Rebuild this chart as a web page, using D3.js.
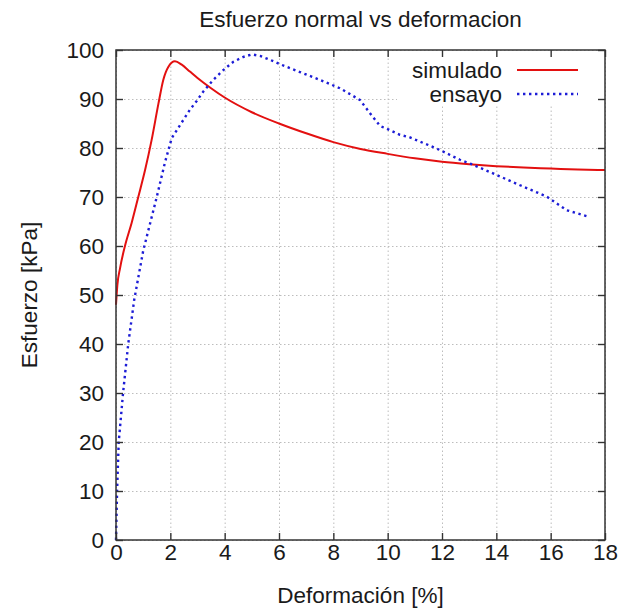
<!DOCTYPE html>
<html>
<head>
<meta charset="utf-8">
<script src="https://cdn.jsdelivr.net/npm/d3@7"></script>
<style>
  html, body { margin: 0; padding: 0; background: #fff; }
  svg { display: block; font-family: "Liberation Sans", Arial, Helvetica, sans-serif; }
</style>
</head>
<body>
<svg id="chart" width="622" height="610"></svg>
<script>
// Curva simulada
const simX = [0, 0.05, 0.15, 0.33, 0.58, 0.82, 1.07, 1.31, 1.56, 1.74, 1.93, 2.17, 2.42, 2.72, 3.0, 3.5, 4.0, 5.0, 6.0, 7.0, 8.0, 9.0, 10.0, 11.0, 12.0, 13.0, 14.0, 15.0, 16.0, 17.0, 18.0];
const simY = [48, 52, 55.5, 60, 64.8, 70, 75.5, 81.6, 89, 93.9, 96.6, 97.7, 97.0, 95.6, 94.3, 92.2, 90.3, 87.3, 85, 83, 81.2, 79.8, 78.8, 77.9, 77.2, 76.7, 76.3, 76.0, 75.8, 75.6, 75.5];

// Ensayo de laboratorio
const ensX = [0, 0.02, 0.04, 0.1, 0.26, 0.45, 0.67, 1.0, 1.25, 1.5, 1.8, 2.05, 2.36, 2.72, 2.97, 3.21, 3.58, 3.95, 4.32, 4.69, 5.0, 5.3, 5.67, 6.04, 6.4, 6.77, 7.51, 8.24, 8.98, 9.35, 9.72, 10.02, 10.45, 10.8, 11.19, 11.5, 11.92, 12.66, 13.09, 14.01, 14.87, 15.85, 16.59, 17.38];
const ensY = [0, 5, 10, 20, 30, 40, 49, 59, 64.5, 70, 77, 82, 84.7, 87.8, 89.6, 91.5, 93.9, 95.9, 97.6, 98.6, 99.1, 98.8, 98.0, 97.1, 96.3, 95.5, 93.9, 92.2, 89.8, 87.1, 84.5, 83.8, 82.7, 82.2, 81.3, 80.6, 79.6, 77.6, 76.7, 74.5, 72.4, 70.1, 67.3, 66.0];

const xTicks = [0, 2, 4, 6, 8, 10, 12, 14, 16, 18];
const yTicks = [0, 10, 20, 30, 40, 50, 60, 70, 80, 90, 100];
const seriesNames = ["simulado", "ensayo"];

const titleText = "Esfuerzo normal vs deformacion";
const xLabel = "Deformación [%]";
const yLabel = "Esfuerzo [kPa]";

const margin = { left: 116, right: 17, top: 50, bottom: 70 };
const W = 622, H = 610;
const iw = W - margin.left - margin.right;
const ih = H - margin.top - margin.bottom;

const svg = d3.select("#chart");
const g = svg.append("g").attr("transform", `translate(${margin.left},${margin.top})`);

const x = d3.scaleLinear().domain([0, 18]).range([0, iw]);
const y = d3.scaleLinear().domain([0, 100]).range([ih, 0]);

const FS = 22.5;
const textColor = "#1a1a1a";

// Rejilla punteada
g.append("g").attr("class", "grid")
  .attr("transform", `translate(0,${ih})`)
  .call(d3.axisBottom(x).tickValues(xTicks).tickSize(-ih).tickFormat(""))
  .call(s => s.select(".domain").remove());
g.append("g").attr("class", "grid")
  .call(d3.axisLeft(y).tickValues(yTicks).tickSize(-iw).tickFormat(""))
  .call(s => s.select(".domain").remove());
g.selectAll(".grid line")
  .attr("stroke", "#bdbdbd").attr("stroke-width", 1).attr("stroke-dasharray", "1.5,2.5");

// Fondo de la leyenda
g.append("rect")
  .attr("x", 281).attr("y", 1)
  .attr("width", iw - 282).attr("height", 54)
  .attr("fill", "#fff");

// Curvas
const simData = simX.map((v, i) => [v, simY[i]]);
const ensData = ensX.map((v, i) => [v, ensY[i]]);

g.append("path")
  .datum(simData)
  .attr("fill", "none")
  .attr("stroke", "#e31010")
  .attr("stroke-width", 2)
  .attr("d", d3.line().x(d => x(d[0])).y(d => y(d[1])).curve(d3.curveMonotoneX));

g.append("path")
  .datum(ensData)
  .attr("fill", "none")
  .attr("stroke", "#1c1cd6")
  .attr("stroke-width", 2.4)
  .attr("stroke-dasharray", "2.4,3.6")
  .attr("d", d3.line().x(d => x(d[0])).y(d => y(d[1])));

// Marco
g.append("rect")
  .attr("x", 0).attr("y", 0).attr("width", iw).attr("height", ih)
  .attr("fill", "none").attr("stroke", "#333").attr("stroke-width", 1.5);

// Ejes con marcas hacia dentro
const tick = 7;
const styleAxis = s => {
  s.select(".domain").remove();
  s.selectAll(".tick line").attr("stroke", "#333").attr("stroke-width", 1.4);
  s.selectAll(".tick text").attr("fill", textColor).style("font-size", FS + "px");
};

g.append("g")
  .attr("transform", `translate(0,${ih})`)
  .call(d3.axisBottom(x).tickValues(xTicks).tickSize(-tick).tickPadding(4).tickFormat(d3.format("d")))
  .call(styleAxis);
g.append("g")
  .call(d3.axisLeft(y).tickValues(yTicks).tickSize(-tick).tickPadding(12).tickFormat(d3.format("d")))
  .call(styleAxis);
g.append("g")
  .call(d3.axisTop(x).tickValues(xTicks).tickSize(-tick).tickFormat(""))
  .call(styleAxis);
g.append("g")
  .attr("transform", `translate(${iw},0)`)
  .call(d3.axisRight(y).tickValues(yTicks).tickSize(-tick).tickFormat(""))
  .call(styleAxis);

// Leyenda
const legend = g.append("g");
const legStyles = [
  { stroke: "#e31010", width: 2, dash: null },
  { stroke: "#1c1cd6", width: 2.4, dash: "2.4,3.6" }
];
seriesNames.forEach((name, i) => {
  const ly = 20 + i * 24;
  legend.append("text")
    .attr("x", 386).attr("y", ly).attr("dy", "0.35em")
    .attr("text-anchor", "end")
    .attr("fill", textColor)
    .style("font-size", FS + "px")
    .text(name);
  legend.append("line")
    .attr("x1", 401).attr("x2", 462)
    .attr("y1", ly).attr("y2", ly)
    .attr("stroke", legStyles[i].stroke)
    .attr("stroke-width", legStyles[i].width)
    .attr("stroke-dasharray", legStyles[i].dash);
});

// Títulos
svg.append("text")
  .attr("x", margin.left + iw / 2).attr("y", 27)
  .attr("text-anchor", "middle").attr("fill", textColor)
  .style("font-size", FS + "px")
  .text(titleText);

svg.append("text")
  .attr("x", margin.left + iw / 2).attr("y", 603)
  .attr("text-anchor", "middle").attr("fill", textColor)
  .style("font-size", FS + "px")
  .text(xLabel);

svg.append("text")
  .attr("transform", `translate(37,${margin.top + ih / 2}) rotate(-90)`)
  .attr("text-anchor", "middle").attr("fill", textColor)
  .style("font-size", FS + "px")
  .text(yLabel);
</script>
</body>
</html>
